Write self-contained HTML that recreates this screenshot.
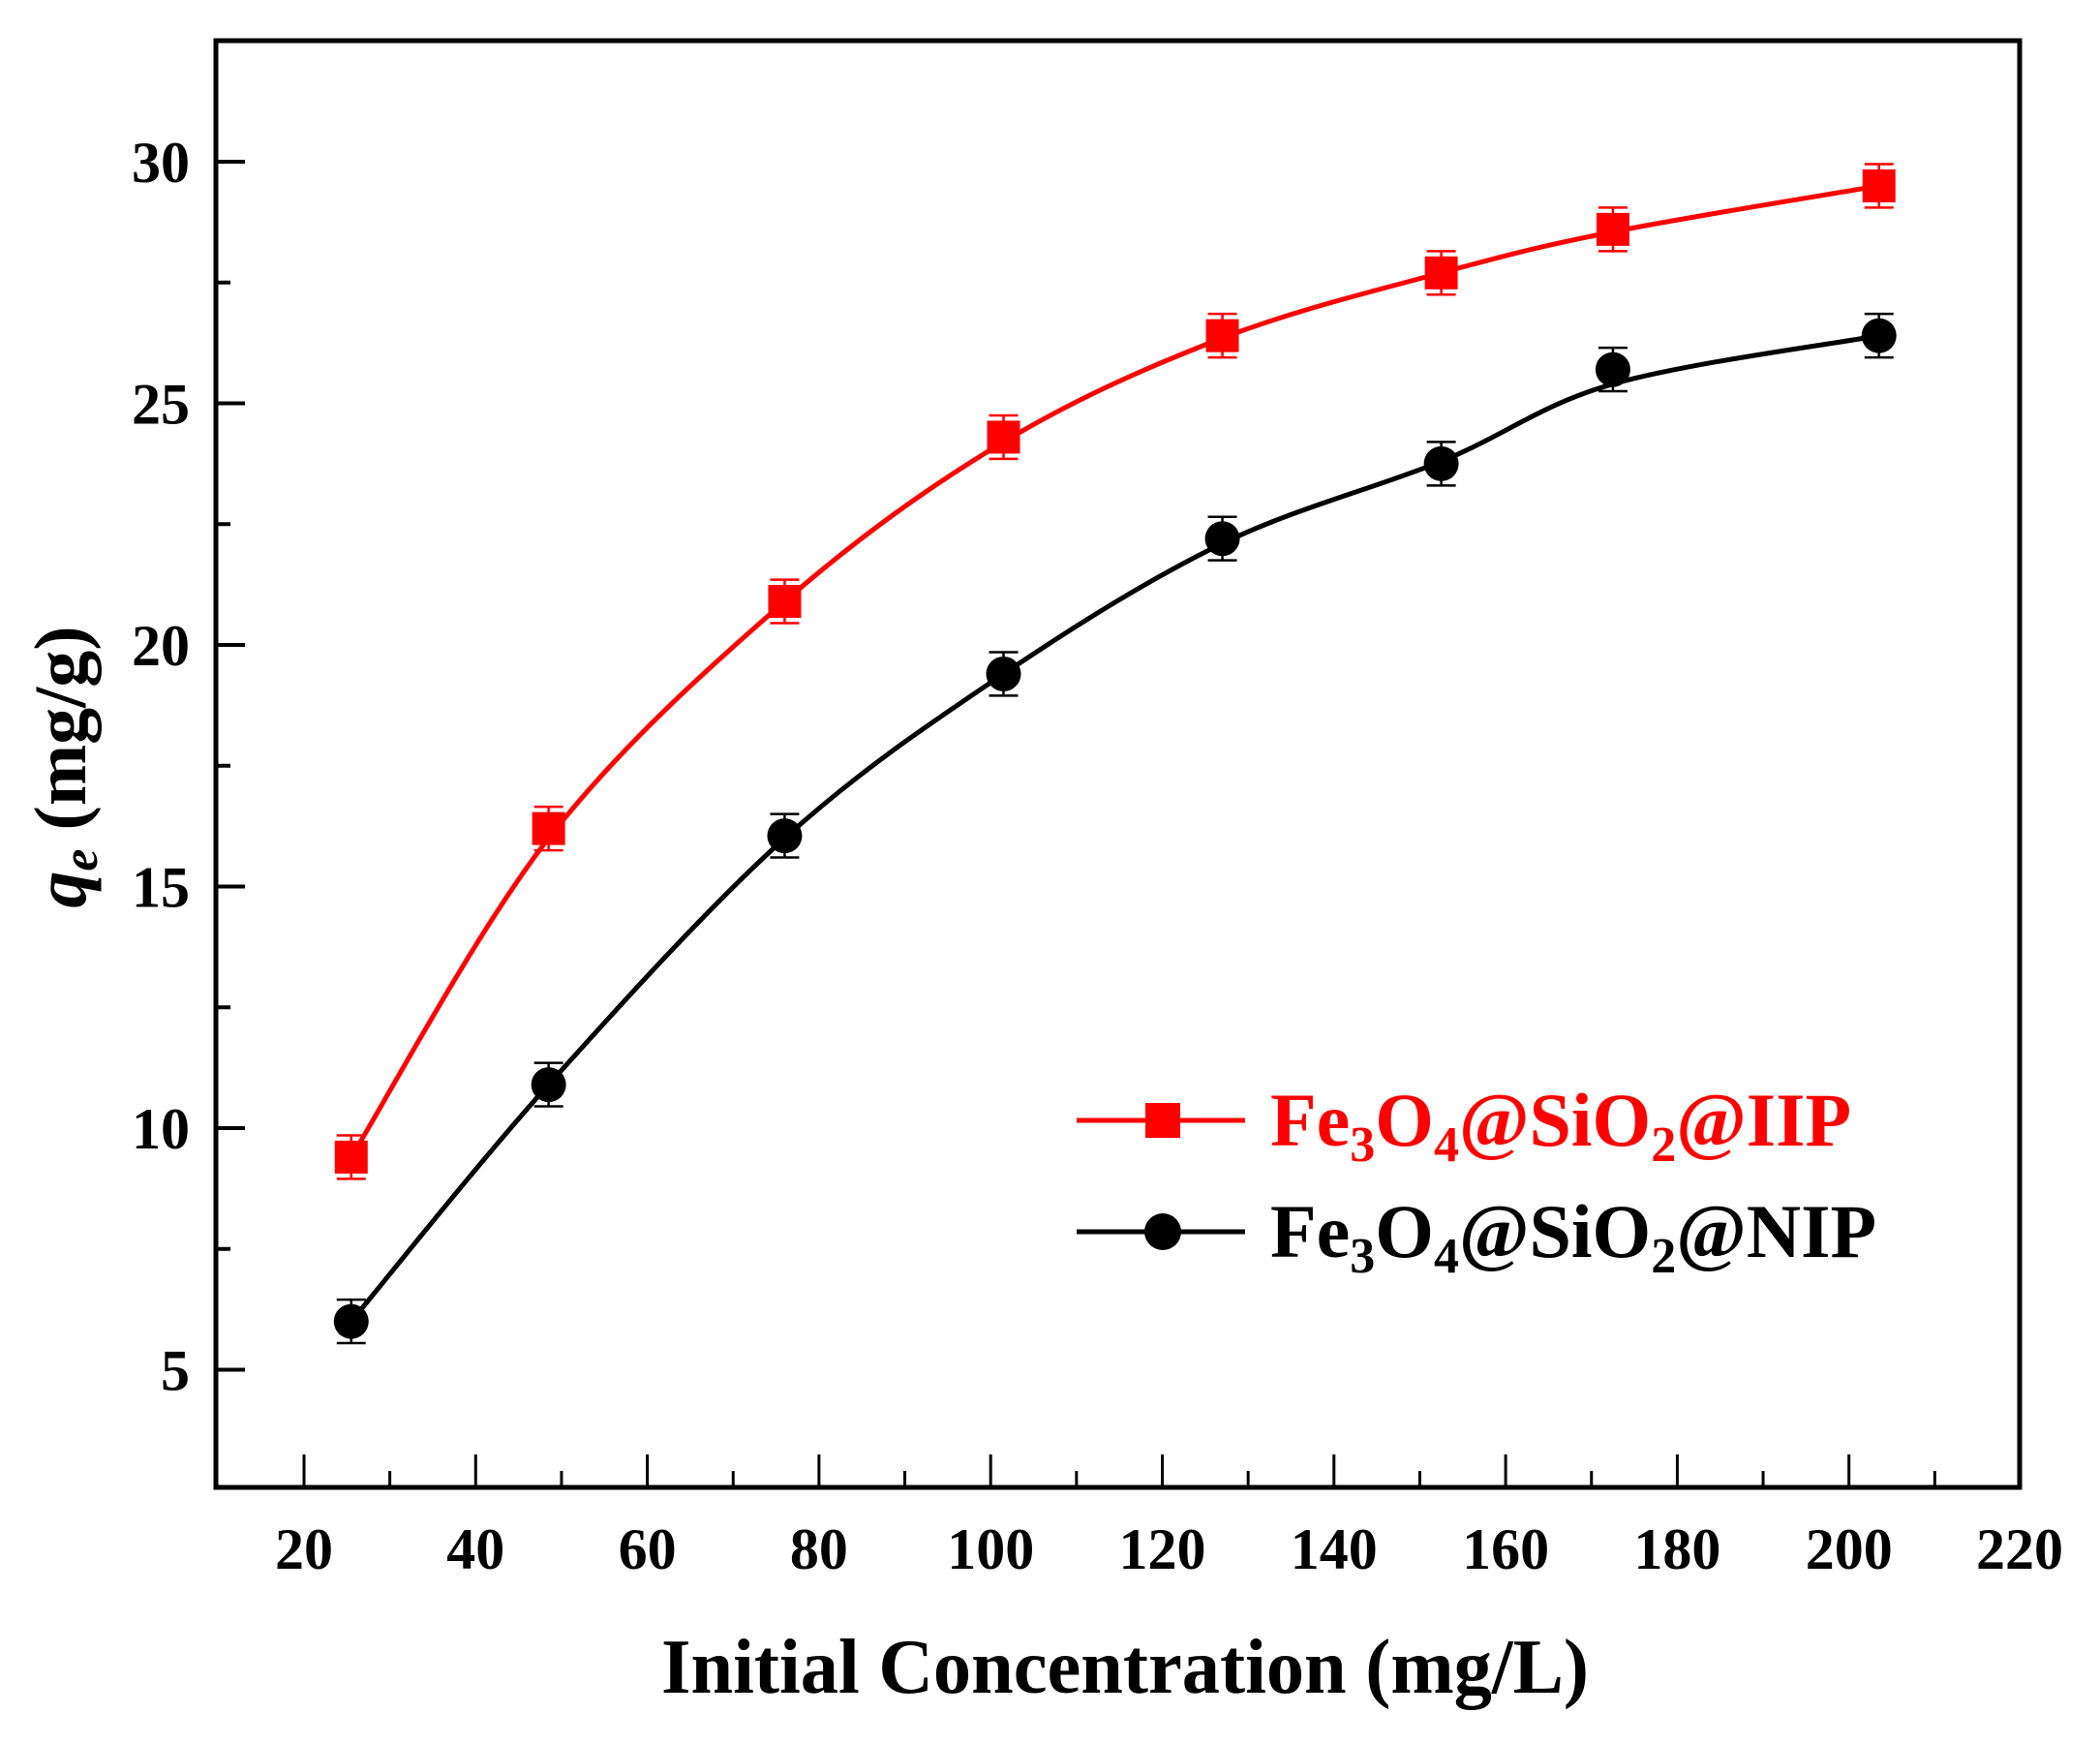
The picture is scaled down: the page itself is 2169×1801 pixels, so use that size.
<!DOCTYPE html>
<html><head><meta charset="utf-8"><style>
html,body{margin:0;padding:0;background:#fff}
svg{display:block}
text{font-family:"Liberation Serif",serif;font-weight:bold}
</style></head><body>
<svg id="s" width="2169" height="1801" viewBox="0 0 2169 1801" xmlns="http://www.w3.org/2000/svg">
<g id="g"></g>
<text x="1162" y="1748" font-size="80" text-anchor="middle" textLength="958" lengthAdjust="spacingAndGlyphs">Initial Concentration (mg/L)</text>
<text transform="translate(88,792) rotate(-90)" font-size="76" text-anchor="middle"><tspan font-style="italic">q</tspan><tspan font-style="italic" font-size="52" dy="12">e</tspan><tspan dy="-12"> (mg/g)</tspan></text>
<line x1="1112" y1="1157" x2="1286" y2="1157" stroke="#f00" stroke-width="5"/>
<rect x="1183" y="1139" width="36" height="36" fill="#f00"/>
<text x="1312" y="1183" font-size="78" fill="#f00">Fe<tspan font-size="52" dy="16">3</tspan><tspan dy="-16">O</tspan><tspan font-size="52" dy="16">4</tspan><tspan dy="-16">@SiO</tspan><tspan font-size="52" dy="16">2</tspan><tspan dy="-16">@IIP</tspan></text>
<line x1="1112" y1="1272" x2="1286" y2="1272" stroke="#000" stroke-width="5"/>
<circle cx="1201" cy="1272" r="19" fill="#000"/>
<text x="1312" y="1298" font-size="78" fill="#000">Fe<tspan font-size="52" dy="16">3</tspan><tspan dy="-16">O</tspan><tspan font-size="52" dy="16">4</tspan><tspan dy="-16">@SiO</tspan><tspan font-size="52" dy="16">2</tspan><tspan dy="-16">@NIP</tspan></text>
</svg>
<script>
var NS="http://www.w3.org/2000/svg",g=document.getElementById('g');
function X(v){return 314+(v-20)*8.865}
function Y(v){return 167+(30-v)*49.9}
function el(t,a){var e=document.createElementNS(NS,t);for(var k in a)e.setAttribute(k,a[k]);g.appendChild(e);return e}
el('rect',{x:223,y:42,width:1863,height:1494,fill:'none',stroke:'#000','stroke-width':5});
for(var v=20;v<=210;v+=10){var maj=v%20==0;el('line',{x1:X(v),x2:X(v),y1:1536,y2:1536-(maj?34:17),stroke:'#000','stroke-width':3});
 if(maj){var t=el('text',{x:X(v),y:1620,'font-size':60,'text-anchor':'middle'});t.textContent=v;}}
var t=el('text',{x:2086,y:1620,'font-size':60,'text-anchor':'middle'});t.textContent=220;
for(var v=5;v<=30;v+=2.5){var maj=v%5==0;el('line',{y1:Y(v),y2:Y(v),x1:223,x2:223+(maj?30:15),stroke:'#000','stroke-width':4});
 if(maj){var t=el('text',{x:196,y:Y(v)+21,'font-size':60,'text-anchor':'end'});t.textContent=v;}}
var xs=[25.5,48.5,76,101.5,127,152.5,172.5,203.5];
var iip=[9.4,16.0,20.9,24.2,26.35,27.7,28.55,29.5];
var iipM=[9.4,16.2,20.9,24.3,26.4,27.7,28.6,29.5];
var nip=[6.0,10.9,16.0,19.4,22.1,23.8,25.4,26.4];
var nipM=[6.0,10.9,16.05,19.4,22.2,23.75,25.7,26.4];
function curve(ys,c){var p=xs.map(function(x,i){return [X(x),Y(ys[i])]});var d='M'+p[0];
 for(var i=0;i<p.length-1;i++){var p0=p[i-1]||p[i],p1=p[i],p2=p[i+1],p3=p[i+2]||p2;
 d+=' C'+(p1[0]+(p2[0]-p0[0])/6)+','+(p1[1]+(p2[1]-p0[1])/6)+' '+(p2[0]-(p3[0]-p1[0])/6)+','+(p2[1]-(p3[1]-p1[1])/6)+' '+p2;}
 el('path',{d:d,fill:'none',stroke:c,'stroke-width':5});}
curve(iip,'#f00');curve(nip,'#000');
function eb(x,y,c){var a=Y(y-0.45),b=Y(y+0.45);el('line',{x1:X(x),x2:X(x),y1:a,y2:b,stroke:c,'stroke-width':2.5});
 [a,b].forEach(function(q){el('line',{x1:X(x)-15,x2:X(x)+15,y1:q,y2:q,stroke:c,'stroke-width':2.5})});}
xs.forEach(function(x,i){eb(x,iipM[i],'#f00');el('rect',{x:X(x)-17,y:Y(iipM[i])-17,width:34,height:34,fill:'#f00'});
 eb(x,nipM[i],'#000');el('circle',{cx:X(x),cy:Y(nipM[i]),r:18,fill:'#000'});});
</script>
</body></html>
